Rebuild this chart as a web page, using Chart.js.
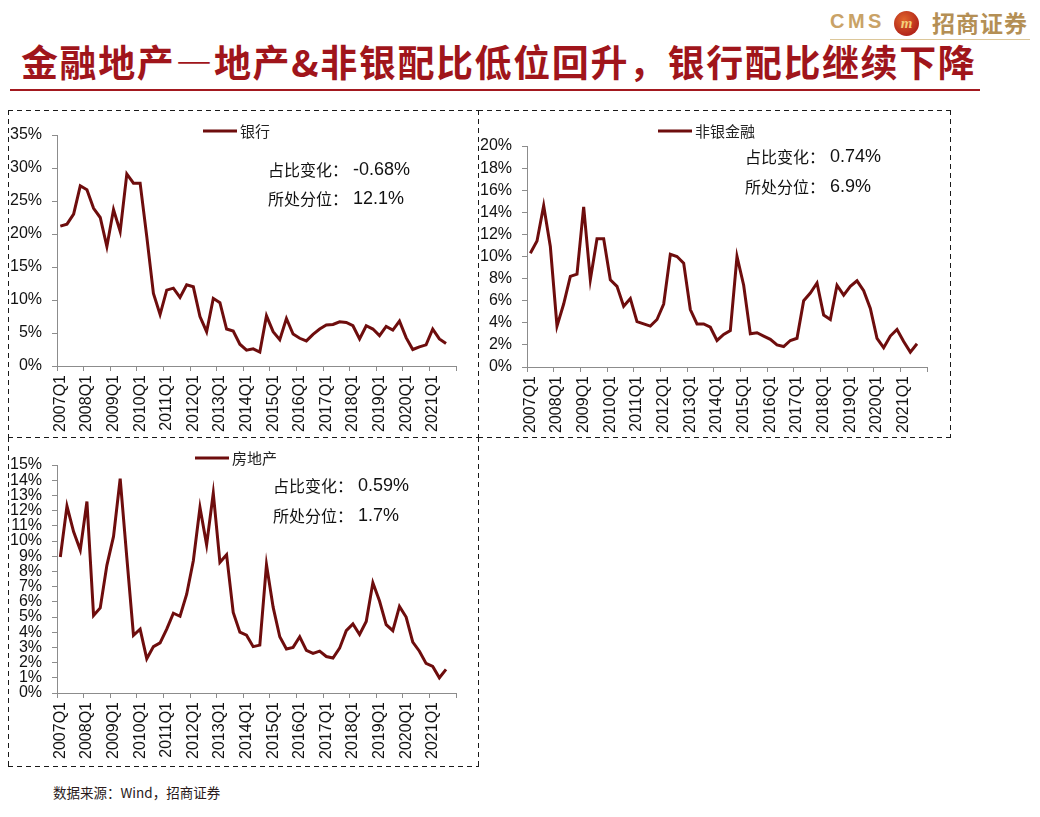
<!DOCTYPE html>
<html lang="zh-CN">
<head>
<meta charset="utf-8">
<title>金融地产配比</title>
<script src="https://cdn.jsdelivr.net/npm/chart.js@4.4.1/dist/chart.umd.min.js"></script>
<style>
    body { margin: 0; width: 1040px; height: 817px; position: relative; overflow: hidden; background: #fff; font-family: "Noto Sans CJK SC", sans-serif; }
    .panel {
        position: absolute; box-sizing: border-box; padding: 1px;
        background-image:
            repeating-linear-gradient(90deg, #1a1a1a 0 5px, transparent 5px 9px),
            repeating-linear-gradient(90deg, #1a1a1a 0 5px, transparent 5px 9px),
            repeating-linear-gradient(180deg, #1a1a1a 0 5px, transparent 5px 9px),
            repeating-linear-gradient(180deg, #1a1a1a 0 5px, transparent 5px 9px);
        background-size: 100% 1px, 100% 1px, 1px 100%, 1px 100%;
        background-position: 0 0, 0 100%, 0 0, 100% 0;
        background-repeat: no-repeat;
    }
    #title { position: absolute; left: 21px; top: 43px; font-size: 37px; line-height: 37px; font-weight: 700; color: #a0151b; letter-spacing: 1.6px; white-space: nowrap; }
    #rule { position: absolute; left: 10px; top: 89px; width: 970px; height: 2px; background: #a3191f; }
    #logo { position: absolute; left: 830px; top: 8px; width: 200px; height: 31px; border-bottom: 1px solid #dcc79a; }
    #logo .cms { position: absolute; left: 0; top: 2px; font: 700 20px "Liberation Sans"; letter-spacing: 3.5px; color: #c9a266; }
    #logo .badge { position: absolute; left: 64px; top: 3px; width: 25px; height: 25px; border-radius: 50%; background: radial-gradient(circle at 40% 35%, #e0642a, #b3261a 70%); color: #f3cf7a; font: italic 700 15px "Liberation Serif"; text-align: center; line-height: 24px; }
    #logo .name { position: absolute; left: 102px; top: 0; font-size: 23px; line-height: 28px; font-weight: 700; color: #b48f55; letter-spacing: 1px; }
    #source { position: absolute; left: 53px; top: 782px; font-size: 13.5px; color: #2a1a1a; }
</style>
</head>
<body>
<div id="logo"><span class="cms">CMS</span><span class="badge">m</span><span class="name">招商证券</span></div>
<div id="title">金融地产—地产&amp;非银配比低位回升，银行配比继续下降</div>
<div id="rule"></div>

<div class="panel" style="left:8px; top:110px; width:471px; height:328px;"><canvas id="bankChart"></canvas></div>
<div class="panel" style="left:478px; top:110px; width:473px; height:328px;"><canvas id="nonBankChart"></canvas></div>
<div class="panel" style="left:8px; top:437px; width:471px; height:330px;"><canvas id="estateChart"></canvas></div>

<div id="source">数据来源：Wind，招商证券</div>

<script>
var years = [2007, 2008, 2009, 2010, 2011, 2012, 2013, 2014, 2015, 2016, 2017, 2018, 2019, 2020, 2021];
var quarters = [];
years.forEach(function (y) {
    for (var q = 1; q <= 4; q++) quarters.push(y + "Q" + q);
});

// 配比 (%)，2007Q1 - 2021Q3
var bankRatio = [21.2, 21.5, 23.0, 27.3, 26.7, 23.9, 22.5, 18.1, 23.7, 20.4,
    29.1, 27.7, 27.7, 19.6, 11.0, 7.8, 11.5, 11.8, 10.4, 12.3,
    12.0, 7.5, 5.2, 10.25, 9.6, 5.6, 5.3, 3.3, 2.4, 2.6,
    2.1, 7.6, 5.2, 4.0, 7.2, 4.85, 4.2, 3.8, 4.8, 5.6,
    6.2, 6.3, 6.7, 6.6, 6.1, 4.1, 6.1, 5.6, 4.6, 6.0,
    5.45, 6.8, 4.3, 2.5, 2.9, 3.2, 5.6, 4.1, 3.4];
var nonBankRatio = [10.3, 11.4, 14.6, 10.9, 3.7, 5.7, 8.2, 8.4, 14.5, 7.9,
    11.6, 11.6, 7.9, 7.3, 5.5, 6.2, 4.1, 3.9, 3.7, 4.3,
    5.7, 10.2, 10.0, 9.4, 5.2, 3.9, 3.9, 3.6, 2.4, 2.95,
    3.3, 10.0, 7.4, 3.0, 3.1, 2.8, 2.5, 2.0, 1.85, 2.4,
    2.6, 6.0, 6.7, 7.6, 4.7, 4.3, 7.4, 6.5, 7.3, 7.8,
    6.9, 5.3, 2.6, 1.75, 2.8, 3.4, 2.3, 1.35, 2.1];
var estateRatio = [8.95, 12.3, 10.6, 9.4, 12.6, 5.1, 5.6, 8.4, 10.3, 14.1,
    8.9, 3.8, 4.2, 2.25, 3.05, 3.3, 4.2, 5.25, 5.05, 6.5,
    8.7, 12.2, 9.75, 13.15, 8.6, 9.1, 5.3, 4.0, 3.8, 3.05,
    3.15, 8.45, 5.65, 3.7, 2.9, 3.0, 3.7, 2.8, 2.6, 2.75,
    2.4, 2.3, 2.95, 4.1, 4.55, 3.85, 4.7, 7.25, 6.05, 4.5,
    4.1, 5.7, 5.0, 3.35, 2.75, 1.95, 1.75, 1.0, 1.55];

var bankNotes = [["占比变化：", " -0.68%"], ["所处分位：", " 12.1%"]];
var nonBankNotes = [["占比变化：", " 0.74%"], ["所处分位：", " 6.9%"]];
var estateNotes = [["占比变化：", " 0.59%"], ["所处分位：", " 1.7%"]];

var lineColor = "#6e0d0d";
var axisColor = "#8c8c8c";

// legend line + the two note rows, placed relative to the plot area
var panelText = {
    id: "panelText",
    afterDraw: function (chart, args, opts) {
        var ctx = chart.ctx;
        var area = chart.chartArea;
        var ds = chart.data.datasets[0];
        ctx.save();
        var lx = area.left + opts.legendX;
        var ly = area.top + opts.legendY;
        ctx.strokeStyle = ds.borderColor;
        ctx.lineWidth = 3;
        ctx.beginPath();
        ctx.moveTo(lx, ly);
        ctx.lineTo(lx + 34, ly);
        ctx.stroke();
        ctx.textBaseline = "middle";
        ctx.fillStyle = "#222";
        ctx.font = '15px "Noto Sans CJK SC"';
        ctx.fillText(ds.label, lx + 37, ly);

        ctx.fillStyle = "#111";
        opts.notes.forEach(function (note, i) {
            var x = area.left + opts.noteX;
            var y = area.top + opts.noteY + i * opts.noteGap;
            ctx.font = '16px "Noto Sans CJK SC"';
            ctx.fillText(note[0], x, y);
            x += ctx.measureText(note[0]).width;
            ctx.font = '18px "Liberation Sans"';
            ctx.fillText(note[1], x, y);
        });
        ctx.restore();
    }
};

function buildConfig(label, values, yMax, yStep, layout) {
    return {
        type: "line",
        data: {
            labels: quarters,
            datasets: [{
                label: label,
                data: values,
                borderColor: lineColor,
                backgroundColor: lineColor,
                borderWidth: 3,
                pointRadius: 0,
                tension: 0
            }]
        },
        options: {
            responsive: true,
            maintainAspectRatio: false,
            animation: false,
            layout: { padding: { top: layout.top, right: layout.right, left: 0, bottom: 0 } },
            plugins: {
                legend: { display: false },
                tooltip: { enabled: false },
                panelText: layout.text
            },
            scales: {
                x: {
                    offset: true,
                    afterFit: function (scale) { scale.height = layout.xHeight; },
                    border: { color: axisColor },
                    grid: {
                        offset: true,
                        drawOnChartArea: false,
                        tickLength: 5,
                        tickColor: function (c) {
                            return (c.type === "scale" || c.index % 4 === 0) ? axisColor : "rgba(0,0,0,0)";
                        }
                    },
                    ticks: {
                        autoSkip: false,
                        maxRotation: 90,
                        minRotation: 90,
                        padding: 4,
                        color: "#111",
                        font: { family: "Liberation Sans", size: 16 },
                        callback: function (value, index) {
                            return index % 4 === 0 ? this.getLabelForValue(value) : "";
                        }
                    }
                },
                y: {
                    min: 0,
                    max: yMax,
                    afterFit: function (scale) { scale.width = 48; },
                    border: { color: axisColor },
                    grid: { drawOnChartArea: false, tickLength: 5, color: axisColor },
                    ticks: {
                        stepSize: yStep,
                        autoSkip: false,
                        padding: 10,
                        color: "#111",
                        font: { family: "Liberation Sans", size: 16, lineHeight: 0.9 },
                        callback: function (value) { return value + "%"; }
                    }
                }
            }
        },
        plugins: [panelText]
    };
}

var bankChart = new Chart(document.getElementById("bankChart"), buildConfig("银行", bankRatio, 35, 5, {
    top: 24, right: 22, xHeight: 71,
    text: { legendX: 146, legendY: -4, noteX: 211, noteY: 35, noteGap: 29, notes: bankNotes }
}));
var nonBankChart = new Chart(document.getElementById("nonBankChart"), buildConfig("非银金融", nonBankRatio, 20, 2, {
    top: 35, right: 23, xHeight: 70,
    text: { legendX: 131, legendY: -15, noteX: 218, noteY: 11, noteGap: 30, notes: nonBankNotes }
}));
var estateChart = new Chart(document.getElementById("estateChart"), buildConfig("房地产", estateRatio, 15, 1, {
    top: 27, right: 22, xHeight: 73,
    text: { legendX: 138, legendY: -7, noteX: 216, noteY: 21, noteGap: 30, notes: estateNotes }
}));
</script>
</body>
</html>
